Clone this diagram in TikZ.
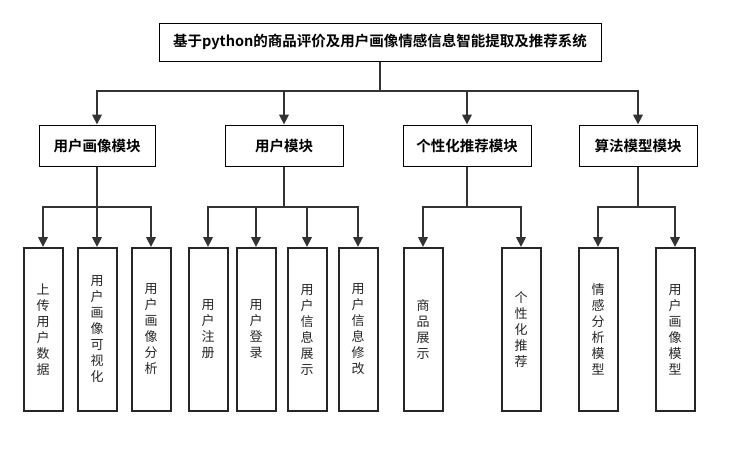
\documentclass[tikz,border=0pt]{standalone}
\usepackage{fontspec}
\setmainfont{Noto Sans CJK SC}[BoldFont={* Bold}]
\usetikzlibrary{arrows.meta}
\begin{document}
\begin{tikzpicture}[x=1pt,y=-1pt,
  titlebox/.style={draw=black,line width=1pt,minimum width=442pt,minimum height=38pt,inner sep=0pt,font=\fontsize{14.5}{16}\selectfont\bfseries},
  modbox/.style={draw=black,line width=1pt,minimum height=41pt,inner sep=0pt,font=\fontsize{14.5}{16}\selectfont\bfseries},
  leafbox/.style={draw=black!85,line width=2pt,minimum width=39pt,minimum height=163pt,inner sep=0pt,align=center,font=\fontsize{13}{16}\selectfont,text=black!85},
  conn/.style={draw=black!80,line width=2.3pt,-{Triangle[length=10pt,width=9.5pt]}}
]
\useasboundingbox (0,0) rectangle (735,459);
\node[titlebox] (t) at (380,42) {基于python的商品评价及用户画像情感信息智能提取及推荐系统};
\node[modbox,minimum width=116pt] (m1) at (97,145.5) {用户画像模块};
\node[modbox,minimum width=118pt] (m2) at (284,145.5) {用户模块};
\node[modbox,minimum width=128pt] (m3) at (467,145.5) {个性化推荐模块};
\node[modbox,minimum width=118pt] (m4) at (638,145.5) {算法模型模块};
\coordinate (b0) at (380,91);
\coordinate (b1) at (97,207);
\coordinate (b2) at (284,207);
\coordinate (b3) at (467,207);
\coordinate (b4) at (638,207);
\foreach \m in {m1,m2,m3,m4} \draw[conn] (t.south) -- (t.south|-b0) -| (\m.north);
\node[leafbox] (l1) at (43,329.5) {上\\传\\用\\户\\数\\据};
\node[leafbox] (l2) at (97,329.5) {用\\户\\画\\像\\可\\视\\化};
\node[leafbox] (l3) at (151,329.5) {用\\户\\画\\像\\分\\析};
\node[leafbox] (l4) at (208,329.5) {用\\户\\注\\册};
\node[leafbox] (l5) at (256,329.5) {用\\户\\登\\录};
\node[leafbox] (l6) at (307,329.5) {用\\户\\信\\息\\展\\示};
\node[leafbox] (l7) at (358,329.5) {用\\户\\信\\息\\修\\改};
\node[leafbox] (l8) at (423,329.5) {商\\品\\展\\示};
\node[leafbox] (l9) at (521,329.5) {个\\性\\化\\推\\荐};
\node[leafbox] (l10) at (598,329.5) {情\\感\\分\\析\\模\\型};
\node[leafbox] (l11) at (675,329.5) {用\\户\\画\\像\\模\\型};
\foreach \l in {l1,l2,l3} \draw[conn] (m1.south) -- (b1) -| (\l.north);
\foreach \l in {l4,l5,l6,l7} \draw[conn] (m2.south) -- (b2) -| (\l.north);
\foreach \l in {l8,l9} \draw[conn] (m3.south) -- (b3) -| (\l.north);
\foreach \l in {l10,l11} \draw[conn] (m4.south) -- (b4) -| (\l.north);
\end{tikzpicture}
\end{document}
